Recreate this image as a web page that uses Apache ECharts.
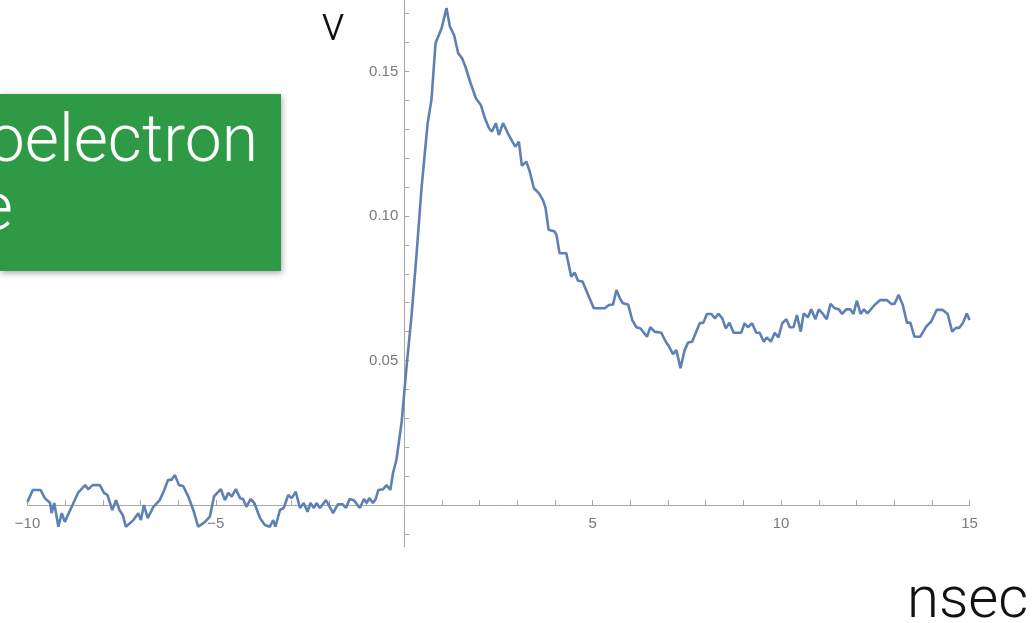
<!DOCTYPE html>
<html>
<head>
<meta charset="utf-8">
<script src="https://cdn.jsdelivr.net/npm/echarts@6/dist/echarts.min.js"></script>
<style>
html,body{margin:0;padding:0;background:#fff;}
#chart{width:1034px;height:623px;}
</style>
</head>
<body>
<div id="chart"></div>
<script>
const times = [
 -10.0,-9.86,-9.65,-9.54,-9.49,-9.40,-9.36,-9.29,-9.18,-9.09,-9.01,-8.66,-8.47,-8.39,-8.27,-8.08,
 -7.97,-7.88,-7.75,-7.65,-7.56,-7.47,-7.39,-7.19,-7.06,-6.99,-6.91,-6.81,-6.66,-6.49,-6.37,-6.27,
 -6.18,-6.09,-5.98,-5.87,-5.73,-5.60,-5.47,-5.29,-5.16,-5.05,-4.87,-4.76,-4.67,-4.58,-4.47,-4.36,
 -4.28,-4.19,-4.08,-3.98,-3.83,-3.70,-3.57,-3.48,-3.42,-3.30,-3.20,-3.08,-2.99,-2.88,-2.77,-2.67,
 -2.57,-2.49,-2.40,-2.33,-2.24,-2.08,-1.98,-1.89,-1.76,-1.64,-1.55,-1.45,-1.34,-1.18,-1.07,-1.00,
 -0.93,-0.83,-0.76,-0.69,-0.56,-0.47,-0.37,-0.30,-0.21,-0.07,0.06,0.19,0.32,0.46,0.62,0.72,
 0.83,0.99,1.12,1.21,1.32,1.43,1.53,1.62,1.76,1.90,2.03,2.14,2.25,2.33,2.43,2.51,
 2.62,2.75,2.89,2.95,3.04,3.12,3.24,3.33,3.44,3.57,3.68,3.75,3.83,3.99,4.04,4.12,
 4.30,4.43,4.52,4.61,4.73,4.88,5.03,5.32,5.43,5.54,5.63,5.72,5.80,5.94,6.05,6.16,
 6.27,6.44,6.53,6.64,6.82,6.94,7.02,7.13,7.22,7.33,7.44,7.53,7.64,7.84,7.94,8.03,
 8.15,8.24,8.34,8.44,8.53,8.63,8.74,8.94,9.03,9.12,9.23,9.34,9.43,9.54,9.62,9.73,
 9.83,9.93,10.03,10.14,10.23,10.33,10.42,10.52,10.60,10.71,10.80,10.91,11.00,11.11,11.21,11.31,
 11.42,11.53,11.62,11.73,11.84,11.92,12.01,12.11,12.20,12.29,12.48,12.63,12.81,12.92,13.01,13.12,
 13.23,13.34,13.43,13.54,13.69,13.85,13.98,14.13,14.29,14.42,14.54,14.64,14.73,14.82,14.93,15.0
];
// voltage (V) at each vertex
const volts = [
 0.0011,0.0052,0.0052,0.0024,0.0021,0.0007,-0.0028,0.0007,-0.0075,-0.0028,-0.0058,0.0042,0.0069,0.0055,0.0069,0.0069,
 0.0042,0.0035,-0.0017,0.0017,-0.0017,-0.0035,-0.0075,-0.0052,-0.0028,-0.0052,0.0000,-0.0045,-0.0006,0.0017,0.0052,0.0087,
 0.0087,0.0104,0.0069,0.0066,0.0029,-0.0017,-0.0075,-0.0058,-0.0040,0.0030,0.0055,0.0017,0.0042,0.0029,0.0055,0.0024,
 0.0021,-0.0006,0.0021,0.0007,-0.0045,-0.0069,-0.0075,-0.0052,-0.0075,-0.0017,-0.0010,0.0035,0.0024,0.0046,-0.0010,0.0007,
 -0.0023,0.0007,-0.0010,0.0007,-0.0010,0.0017,-0.0006,-0.0028,0.0003,0.0003,-0.0010,0.0021,0.0017,-0.0010,0.0021,0.0007,
 0.0024,0.0007,0.0021,0.0052,0.0055,0.0069,0.0052,0.0111,0.0156,0.0288,0.0479,0.0652,0.0859,0.1101,0.1321,0.1401,
 0.1598,0.1649,0.1719,0.1655,0.1626,0.1563,0.1546,0.1517,0.1459,0.1407,0.1384,0.1338,0.1303,0.1292,0.1321,0.1280,
 0.1321,0.1286,0.1252,0.1240,0.1257,0.1174,0.1188,0.1153,0.1096,0.1079,0.1055,0.1027,0.0952,0.0946,0.0934,0.0871,
 0.0871,0.0790,0.0804,0.0776,0.0773,0.0727,0.0681,0.0681,0.0692,0.0694,0.0744,0.0715,0.0698,0.0694,0.0640,0.0615,
 0.0611,0.0582,0.0615,0.0600,0.0596,0.0565,0.0550,0.0522,0.0536,0.0473,0.0536,0.0562,0.0565,0.0629,0.0631,0.0661,
 0.0661,0.0646,0.0661,0.0646,0.0611,0.0631,0.0596,0.0596,0.0629,0.0615,0.0629,0.0596,0.0596,0.0565,0.0580,0.0565,
 0.0596,0.0580,0.0629,0.0643,0.0615,0.0615,0.0657,0.0600,0.0663,0.0649,0.0677,0.0643,0.0677,0.0661,0.0643,0.0696,
 0.0681,0.0677,0.0661,0.0677,0.0677,0.0661,0.0707,0.0661,0.0677,0.0663,0.0692,0.0709,0.0709,0.0696,0.0696,0.0727,
 0.0692,0.0631,0.0631,0.0582,0.0582,0.0617,0.0634,0.0675,0.0675,0.0661,0.0600,0.0613,0.0613,0.0629,0.0663,0.0640
];
const xTicks = [-10,-9,-8,-7,-6,-5,-4,-3,-2,-1,0,1,2,3,4,5,6,7,8,9,10,11,12,13,14,15];
const xLabels = [-10,-5,5,10,15];
const yTicks = [-0.01,0,0.01,0.02,0.03,0.04,0.05,0.06,0.07,0.08,0.09,0.10,0.11,0.12,0.13,0.14,0.15,0.16,0.17];
const yLabels = [0.05,0.10,0.15];
const xRange = [-10, 15];
const yRange = [-0.0144, 0.1747];

const chart = echarts.init(document.getElementById('chart'), null, {renderer:'canvas'});
const axisGray = '#a8a8a8';
const labelGray = '#7a7a7a';
const labelFont = 'Liberation Sans';
const gridL = 27.5, gridR = 64.5, gridT = 0, gridB = 76.3;
const W = 1034, H = 623;
// axes cross at the origin: shift each axis from the grid edge to the zero line
const plotW = W - gridL - gridR, plotH = H - gridT - gridB;
const yZeroFromBottom = (0 - yRange[0]) / (yRange[1] - yRange[0]) * plotH;
const xZeroFromLeft = (0 - xRange[0]) / (xRange[1] - xRange[0]) * plotW;
chart.setOption({
  animation: false,
  backgroundColor: '#ffffff',
  grid: {left: gridL, right: gridR, top: gridT, bottom: gridB, containLabel: false, outerBoundsMode: 'none'},
  xAxis: {
    type: 'value', min: xRange[0], max: xRange[1], position: 'bottom', offset: -yZeroFromBottom,
    axisLine: {onZero: false, lineStyle: {color: axisGray, width: 1}},
    axisTick: {inside: true, length: 5, customValues: xTicks, lineStyle: {color: axisGray}},
    axisLabel: {customValues: xLabels, margin: 11, color: labelGray, fontSize: 15, fontFamily: labelFont,
      formatter: v => v < 0 ? '\u2212' + Math.abs(v) : String(v)},
    splitLine: {show: false}
  },
  yAxis: {
    type: 'value', min: yRange[0], max: yRange[1], position: 'left', offset: -xZeroFromLeft,
    axisLine: {show: true, onZero: false, lineStyle: {color: axisGray, width: 1}},
    axisTick: {show: true, inside: true, length: 5, customValues: yTicks, lineStyle: {color: axisGray}},
    axisLabel: {customValues: yLabels, margin: 6, color: labelGray, fontSize: 15, fontFamily: labelFont,
      formatter: v => v.toFixed(2)},
    splitLine: {show: false}
  },
  series: [{
    type: 'line',
    data: times.map((t, i) => [t, volts[i]]),
    showSymbol: false,
    lineStyle: {color: '#5e81b5', width: 2.6},
    silent: true
  }],
  graphic: [
    {type: 'rect', shape: {x: 0, y: 94, width: 281, height: 177},
      style: {fill: '#2f9a45', shadowBlur: 6, shadowColor: 'rgba(0,0,0,0.35)', shadowOffsetX: 1, shadowOffsetY: 2}, z: 10},
    {type: 'text', x: 258, y: 144, z: 11,
      style: {text: 'oelectron', fill: '#ffffff', font: '300 66px Roboto', textAlign: 'right', textVerticalAlign: 'middle'}},
    {type: 'text', x: 13, y: 212, z: 11,
      style: {text: 'e', fill: '#ffffff', font: '300 66px Roboto', textAlign: 'right', textVerticalAlign: 'middle'}},
    {type: 'text', x: 333, y: 28, z: 11,
      style: {text: 'v', fill: '#111111', font: '300 48px Roboto', textAlign: 'center', textVerticalAlign: 'middle'}},
    {type: 'text', x: 907, y: 602, z: 11,
      style: {text: 'nsec', fill: '#111111', font: '300 58px Roboto', textAlign: 'left', textVerticalAlign: 'middle'}}
  ]
});
</script>
</body>
</html>
